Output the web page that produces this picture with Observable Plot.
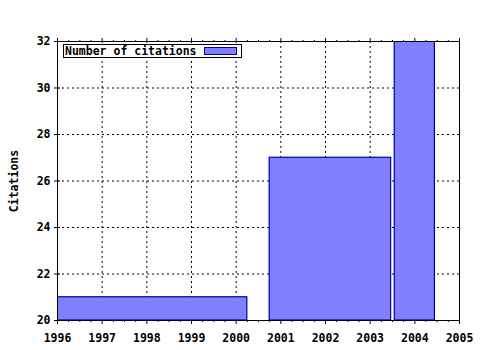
<!DOCTYPE html>
<html>
<head>
<meta charset="utf-8">
<script src="https://cdn.jsdelivr.net/npm/d3@7"></script>
<script src="https://cdn.jsdelivr.net/npm/@observablehq/plot@0.6"></script>
<style>
  html, body { margin: 0; padding: 0; background: #fff; }
  svg { display: block; }
</style>
</head>
<body>
<div id="chart"></div>
<script>
const barStart = [1996, 2000.75, 2003.55];
const barEnd   = [2000.25, 2003.47, 2004.45];
const citations = [21, 27, 32];
const xTicks = [1996, 1997, 1998, 1999, 2000, 2001, 2002, 2003, 2004, 2005];
const yTicks = [20, 22, 24, 26, 28, 30, 32];
const seriesLabel = "Number of citations";
const yLabel = "Citations";

const bars = citations.map((v, i) => ({x1: barStart[i], x2: barEnd[i], v}));
const minorX = d3.range(1996, 2005.001, 0.25).filter(t => !xTicks.includes(t));

const font = "bold 11.5px 'DejaVu Sans Mono', monospace";
const fill = "#8080ff", edge = "#0000a0";

const chart = Plot.plot({
  width: 480,
  height: 350,
  marginLeft: 57,
  marginRight: 21,
  marginTop: 41,
  marginBottom: 30,
  style: {font, color: "#000", background: "#fff"},
  x: {domain: [1996, 2005]},
  y: {domain: [20, 32]},
  marks: [
    Plot.gridX(xTicks.slice(1, -1), {stroke: "#000", strokeOpacity: 1, strokeDasharray: "2,3"}),
    Plot.gridY(yTicks.slice(1, -1), {stroke: "#000", strokeOpacity: 1, strokeDasharray: "2,3"}),
    Plot.rect(bars, {x1: "x1", x2: "x2", y1: 20, y2: "v", fill, stroke: edge, strokeWidth: 1.2, clip: true}),
    Plot.axisX(xTicks, {anchor: "bottom", tickSize: 4, tickPadding: 9, tickFormat: "d", label: null, fontWeight: "bold"}),
    Plot.axisX(minorX, {anchor: "bottom", tickSize: 2, text: null, label: null}),
    Plot.axisX(xTicks, {anchor: "top", tickSize: 4, text: null, label: null}),
    Plot.axisX(minorX, {anchor: "top", tickSize: 2, text: null, label: null}),
    Plot.axisY(yTicks, {anchor: "left", tickSize: 3, tickPadding: 4, tickFormat: "d", label: null, fontWeight: "bold"}),
    Plot.axisY(yTicks, {anchor: "left", tickSize: -3, text: null, label: null}),
    Plot.frame({stroke: "#000"})
  ]
});

const svg = d3.select(chart);
// y axis title
svg.append("text")
  .attr("transform", "translate(14,181) rotate(-90)")
  .attr("text-anchor", "middle")
  .attr("dominant-baseline", "middle")
  .style("font", font)
  .text(yLabel);
// legend
const lg = svg.append("g");
lg.append("rect").attr("x", 63.5).attr("y", 44.5).attr("width", 178).attr("height", 13)
  .attr("fill", "#fff").attr("stroke", "#000");
lg.append("text").attr("x", 65).attr("y", 55).attr("text-anchor", "start").style("font", font).text(seriesLabel);
lg.append("rect").attr("x", 204.5).attr("y", 47.5).attr("width", 32).attr("height", 7)
  .attr("fill", fill).attr("stroke", edge);

document.getElementById("chart").appendChild(chart);
</script>
</body>
</html>
